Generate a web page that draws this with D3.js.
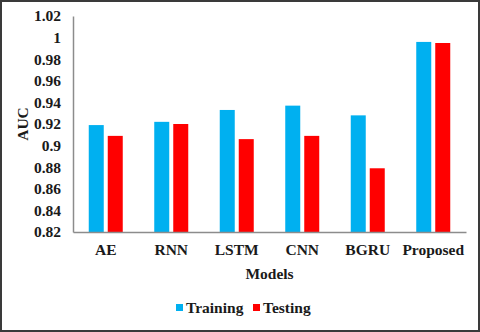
<!DOCTYPE html>
<html lang="en">
<head>
<meta charset="UTF-8">
<title>AUC by model</title>
<style>
  html, body { margin: 0; padding: 0; background: #fff; }
  svg text { font-family: "Liberation Serif", "Times New Roman", serif; font-weight: bold; fill: #1a1a1a; }
</style>
</head>
<body>
<div id="container"></div>
<script src="https://d3js.org/d3.v7.min.js"></script>
<script>
var models = ["AE", "RNN", "LSTM", "CNN", "BGRU", "Proposed"];
var series = ["Training", "Testing"];
var training = [0.919, 0.922, 0.933, 0.937, 0.928, 0.996];
var testing = [0.909, 0.920, 0.906, 0.909, 0.879, 0.995];
var yTicks = [0.82, 0.84, 0.86, 0.88, 0.9, 0.92, 0.94, 0.96, 0.98, 1, 1.02];
var colors = ["#00B0F0", "#FF0000"];

var width = 480, height = 332;
var plotLeft = 73, plotRight = 466, plotTop = 16, plotBottom = 232;

var svg = d3.select("#container").append("svg")
    .attr("width", width)
    .attr("height", height);

// outer frame
svg.append("rect")
    .attr("x", 1).attr("y", 1)
    .attr("width", width - 2).attr("height", height - 2)
    .attr("fill", "none")
    .attr("stroke", "#3a3a3a")
    .attr("stroke-width", 2);

var x0 = d3.scaleBand().domain(models).range([plotLeft, plotRight]);
var bw = x0.bandwidth();
var x1 = d3.scaleBand().domain(series)
    .range([bw / 2 - 17, bw / 2 + 17])
    .paddingInner(2 - 34 / 19);
var y = d3.scaleLinear().domain([0.82, 1.02]).range([plotBottom, plotTop]);

var rows = models.map(function(m, i) {
    return { model: m, values: [training[i], testing[i]] };
});

// bars
var groups = svg.append("g").selectAll("g")
    .data(rows)
    .enter().append("g")
    .attr("transform", function(d) { return "translate(" + x0(d.model) + ",0)"; });

groups.selectAll("rect")
    .data(function(d) { return d.values.map(function(v, j) { return { s: series[j], v: v, j: j }; }); })
    .enter().append("rect")
    .attr("x", function(d) { return x1(d.s); })
    .attr("y", function(d) { return y(d.v); })
    .attr("width", x1.bandwidth())
    .attr("height", function(d) { return y(0.82) - y(d.v); })
    .attr("fill", function(d) { return colors[d.j]; });

// y axis
var yAxis = svg.append("g")
    .attr("transform", "translate(" + plotLeft + ",0)")
    .call(d3.axisLeft(y).tickValues(yTicks).tickSize(0).tickPadding(12)
        .tickFormat(function(d) { return String(+d.toFixed(2)); }));
yAxis.select(".domain").attr("stroke", "#8c8c8c").attr("stroke-width", 1.5);
yAxis.selectAll("text").style("font-size", "15.5px").attr("fill", "#1a1a1a");

// x axis
var xAxis = svg.append("g")
    .attr("transform", "translate(0," + plotBottom + ")")
    .call(d3.axisBottom(x0).tickSize(0).tickPadding(12));
xAxis.select(".domain").attr("stroke", "#8c8c8c").attr("stroke-width", 1.5);
xAxis.selectAll("text").style("font-size", "15.5px").attr("fill", "#1a1a1a");

// axis titles
svg.append("text")
    .attr("x", (plotLeft + plotRight) / 2)
    .attr("y", 279)
    .attr("text-anchor", "middle")
    .style("font-size", "15.5px")
    .text("Models");

svg.append("text")
    .attr("transform", "translate(28," + (plotTop + plotBottom) / 2 + ") rotate(-90)")
    .attr("text-anchor", "middle")
    .style("font-size", "15.5px")
    .text("AUC");

// legend
var legend = svg.append("g");
var legendX = [176, 253];
series.forEach(function(s, i) {
    legend.append("rect")
        .attr("x", legendX[i]).attr("y", 304)
        .attr("width", 7).attr("height", 7)
        .attr("fill", colors[i]);
    legend.append("text")
        .attr("x", legendX[i] + 10).attr("y", 313)
        .style("font-size", "15.5px")
        .text(s);
});
</script>
</body>
</html>
